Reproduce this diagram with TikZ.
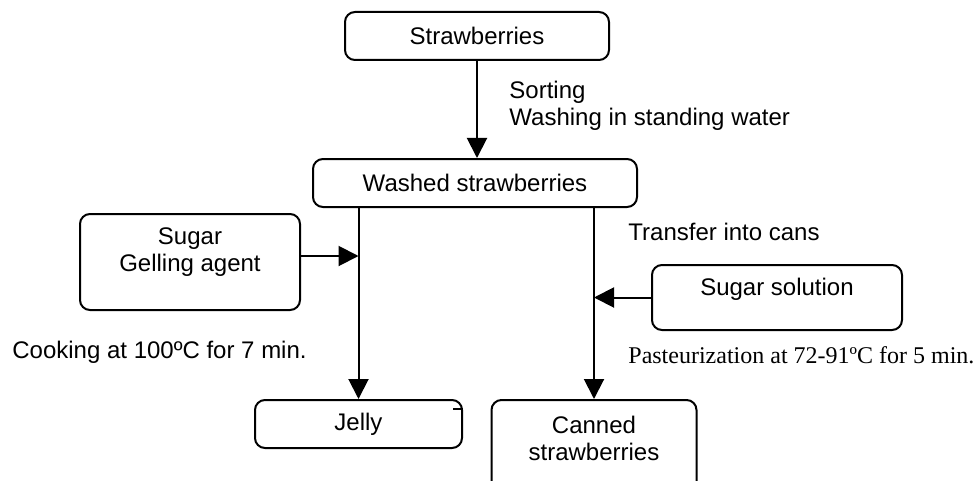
\documentclass[tikz,border=0pt]{standalone}
\usepackage{fontspec}
\setmainfont{Liberation Sans}
\newfontfamily\timesfont{Liberation Serif}
\usetikzlibrary{arrows.meta}
\begin{document}
\begin{tikzpicture}[x=0.5pt,y=-0.5pt,
  font=\fontsize{12}{13.5}\selectfont,
  box/.style={draw,line width=1pt,rounded corners=5pt,inner sep=0pt,align=center},
  txt/.style={inner sep=0pt,align=left,anchor=west},
  flow/.style={line width=1pt,-{Triangle[length=10pt,width=10pt]}}]
\clip (0,0) rectangle (974,481);
\useasboundingbox (0,0) rectangle (974,481);
\node[box,minimum width=132pt,minimum height=24pt] (straw) at (477,36) {Strawberries};
\node[box,minimum width=162pt,minimum height=24pt] (washed) at (475,183) {Washed strawberries};
\node[box,minimum width=110pt,minimum height=48pt] (sugar) at (190,262) {};
\node[inner sep=0pt,align=center] (sugartext) at (190,252.5) {Sugar\\Gelling agent};
\node[box,minimum width=125pt,minimum height=32.5pt] (sol) at (777,297.5) {};
\node[inner sep=0pt] (soltext) at (777,289) {Sugar solution};
\node[box,minimum width=103.5pt,minimum height=24pt] (jelly) at (358.5,424) {Jelly};
\node[box,minimum width=102.5pt,minimum height=50pt] (canned) at (594,450) {};
\node[inner sep=0pt,align=center] (cannedtext) at (594,438.5) {Canned\\strawberries};
\node[txt] (sorting) at (509,106) {Sorting\\Washing in standing water};
\node[txt] (transfer) at (628,232) {Transfer into cans};
\node[txt] (cooking) at (12,352) {Cooking at 100ºC for 7 min.};
\node[txt,font=\timesfont\fontsize{12}{13.5}\selectfont] (past) at (628,355) {Pasteurization at 72-91ºC for 5 min.};
\draw[flow] (straw.south) -- (straw.south |- washed.north);
\draw[flow] (jelly.north |- washed.south) -- (jelly.north);
\draw[flow] (canned.north |- washed.south) -- (canned.north);
\draw[flow] ([yshift=3pt]sugar.east) -- ([yshift=3pt]sugar.east -| jelly.north);
\draw[flow] (sol.west) -- (sol.west -| canned.north);
\draw[line width=0.6pt] ([xshift=-5pt,yshift=-5pt]jelly.north east) -- ([yshift=-5pt]jelly.north east);
\end{tikzpicture}
\end{document}
